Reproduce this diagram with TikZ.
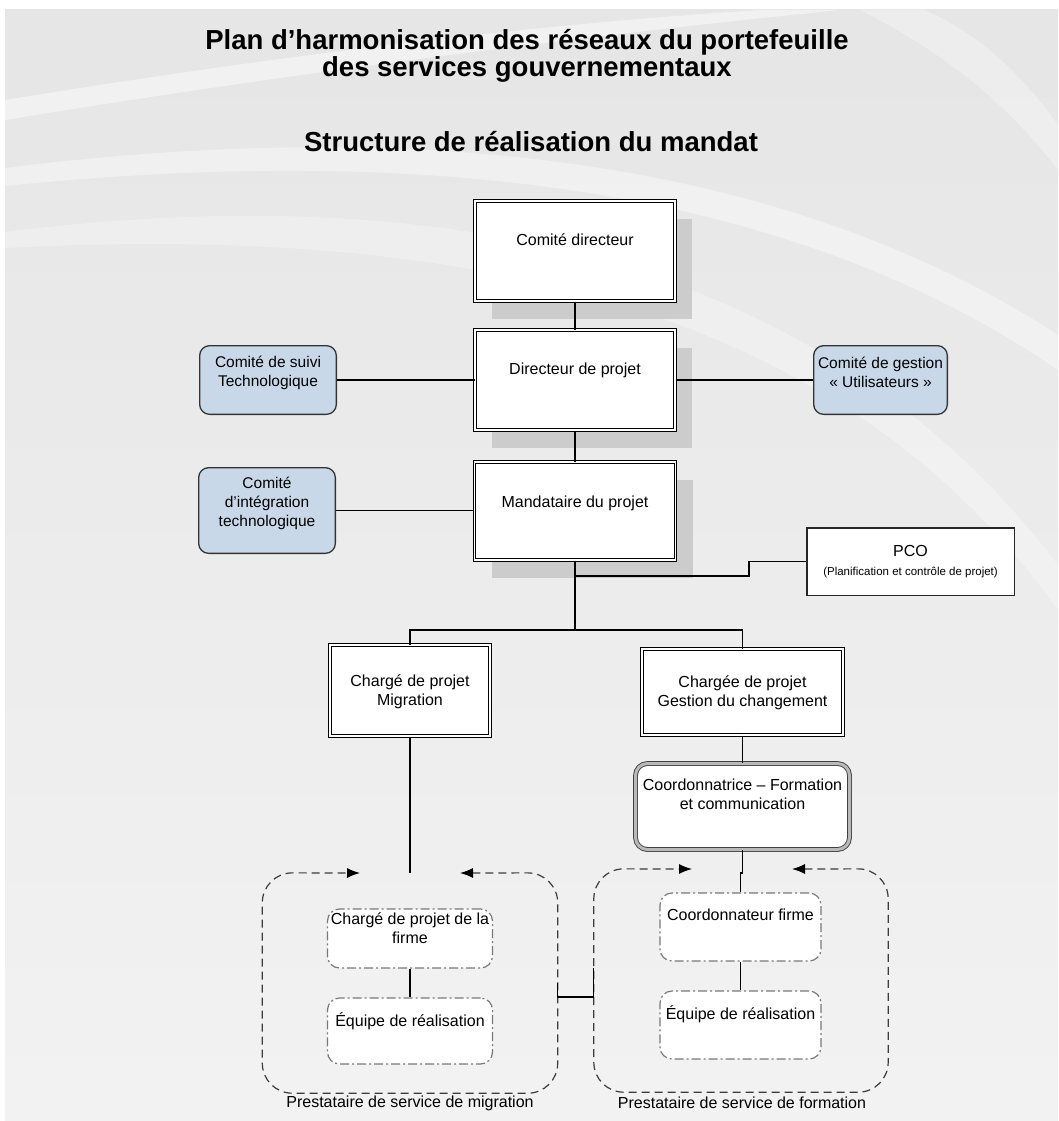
\documentclass[tikz,border=0pt]{standalone}
\usepackage{fontspec}
\setmainfont{Liberation Sans}
\usetikzlibrary{shadows,arrows.meta,calc}

\definecolor{bluefill}{RGB}{201,216,233}
\definecolor{shadowgray}{RGB}{204,204,204}
\definecolor{dashgray}{RGB}{60,60,60}
\definecolor{dotgray}{RGB}{120,120,120}

% text block raised inside its box without changing the box size
\newcommand{\lift}[2]{\raisebox{#1}[0pt][0pt]{\begin{tabular}{@{}c@{}}#2\end{tabular}}}

\begin{document}
\begin{tikzpicture}[x=1pt,y=-1pt,
  every node/.style={inner sep=0pt, font=\fontsize{16}{19}\selectfont},
  mainbox/.style={draw=black, line width=1pt, double=white, double distance=1.6pt,
    fill=white, rectangle},
  shadowed/.style={general shadow={fill=shadowgray, shadow xshift=17pt, shadow yshift=-18pt}},
  bluebox/.style={draw=black!80, line width=1.3pt, fill=bluefill, rounded corners=10pt,
    rectangle, font=\fontsize{15.5}{19}\selectfont},
  plainbox/.style={draw=black!85, line width=1.5pt, fill=white, rectangle},
  coordbox/.style={draw=black!75, line width=0.9pt, double=gray!55, double distance=3pt,
    fill=white, rounded corners=12pt, rectangle},
  firmbox/.style={draw=dotgray, line width=1.2pt,
    dash pattern=on 9pt off 3pt on 2pt off 3pt, fill=white, rounded corners=12pt, rectangle},
  provider/.style={rectangle},
  provtip/.style={Latex[length=13pt,width=10pt,color=black]},
  provpath/.style={draw=dashgray, line width=1.2pt, dash pattern=on 8pt off 5pt,
    rounded corners=30pt, {Latex[length=13pt,width=10pt,color=black]}-{Latex[length=13pt,width=10pt,color=black]}},
  link/.style={draw=black, line width=1.3pt},
  titlefont/.style={font=\fontsize{27.5}{25}\selectfont\bfseries, align=center}
]
\useasboundingbox (0,0) rectangle (1058,1121);

% ---------- background ----------
\fill[white] (0,0) rectangle (1058,1121);
\shade[top color=black!10, bottom color=black!5] (5,10) rectangle (1058,1121);
\fill[white, opacity=0.45] (5,100) .. controls (250,60) and (520,25) .. (760,10)
  -- (840,10) .. controls (560,38) and (260,78) .. (5,120) -- cycle;
\fill[white, opacity=0.4] (5,168) .. controls (350,125) and (750,135) .. (1058,335)
  -- (1058,370) .. controls (760,165) and (360,150) .. (5,186) -- cycle;
\fill[white, opacity=0.3] (5,232) .. controls (380,185) and (800,225) .. (1058,565)
  -- (1058,610) .. controls (820,275) and (400,228) .. (5,248) -- cycle;
\fill[white, opacity=0.3] (860,10) .. controls (960,60) and (1020,120) .. (1058,170)
  -- (1058,125) .. controls (1020,72) and (980,35) .. (925,10) -- cycle;

% ---------- titles ----------
\node[titlefont] (title) at (527,56)
  {Plan d’harmonisation des réseaux du portefeuille\\des services gouvernementaux};
\node[titlefont] (subtitle) at (531,142) {Structure de réalisation du mandat};

% ---------- main chain ----------
\node[mainbox, shadowed, minimum width=200pt, minimum height=100pt] (comite) at (575,251)
  {\lift{5pt}{Comité directeur}};
\node[mainbox, shadowed, minimum width=200pt, minimum height=100pt] (directeur) at (575,380)
  {\lift{5pt}{Directeur de projet}};
\node[mainbox, shadowed, minimum width=201pt, minimum height=98pt] (mandataire) at (575,511)
  {\lift{3pt}{Mandataire du projet}};

% ---------- side committees ----------
\node[bluebox, minimum width=136.7pt, minimum height=68.7pt] (suivi) at (268,380)
  {\lift{3.5pt}{Comité de suivi\\Technologique}};
\node[bluebox, minimum width=136.7pt, minimum height=85.7pt] (integ) at (267,510.5)
  {\lift{3pt}{Comité\\d’intégration\\technologique}};
\node[bluebox, minimum width=133.7pt, minimum height=68.7pt] (gestion) at (880.5,380)
  {\lift{2.5pt}{Comité de gestion\\« Utilisateurs »}};

% ---------- PCO ----------
\node[plainbox, minimum width=207.5pt, minimum height=67.5pt] (pco) at (910.5,561.5)
  {\lift{-5pt}{PCO\\{\fontsize{11.5}{13}\selectfont (Planification et contrôle de projet)}}};

% ---------- project leads ----------
\node[mainbox, minimum width=160pt, minimum height=91pt] (migr) at (410,690.5)
  {\lift{-6pt}{Chargé de projet\\Migration}};
\node[mainbox, minimum width=201pt, minimum height=86pt] (chg) at (742.5,692)
  {\lift{-6pt}{Chargée de projet\\Gestion du changement}};
\node[coordbox, minimum width=214pt, minimum height=86pt] (coord) at (742.5,806.5)
  {\lift{5.5pt}{Coordonnatrice – Formation\\et communication}};

% ---------- service providers ----------
\node[provider, minimum width=295pt, minimum height=220pt] (provmig) at (410,983) {};
\node[provider, minimum width=294pt, minimum height=223pt] (provform) at (741,980.5) {};

\draw[provpath] (460,873) -- (provmig.north east) -- (provmig.south east)
  -- (provmig.south west) -- (provmig.north west) -- (360,873);
\draw[provpath] (792,869) -- (provform.north east) -- (provform.south east)
  -- (provform.south west) -- (provform.north west) -- (692,869);

\node (provmiglabel) at (410,1103) {Prestataire de service de migration};
\node (provformlabel) at (742,1103) {Prestataire de service de formation};

\node[firmbox, minimum width=165pt, minimum height=59pt] (firmL) at (410,938.5)
  {\lift{4pt}{Chargé de projet de la\\firme}};
\node[firmbox, minimum width=165pt, minimum height=66pt] (equipeL) at (410,1031)
  {\lift{4pt}{Équipe de réalisation}};
\node[firmbox, minimum width=161pt, minimum height=68pt] (firmR) at (740.5,927)
  {\lift{6pt}{Coordonnateur firme}};
\node[firmbox, minimum width=161pt, minimum height=68pt] (equipeR) at (740.5,1025)
  {\lift{5pt}{Équipe de réalisation}};

% ---------- connectors ----------
\coordinate (split) at (575,630);
\coordinate (pcotap) at (575,576);

\draw[link] (comite) -- (directeur);
\draw[link] (directeur) -- (mandataire);
\draw[link] (suivi.east) -- (directeur.west);
\draw[link] (directeur.east) -- (gestion.west);
\draw[link] (integ.east) -- (mandataire.west |- integ.east);
\draw[link] (mandataire.south) -- (split);
\draw[link] (pcotap) -- ++(174,0) |- (pco.west);
\draw[link] (migr.north) |- (split) -| (chg.north);
\draw[link] (migr.south) -- (provmig.north);
\draw[link] (chg.south) -- (coord.north);
\draw[link] (coord.south) -- ++(0,23) -| (firmR.north);
\draw[link] (firmL.south) -- (equipeL.north);
\draw[link] (firmR.south) -- (equipeR.north);
\draw[link] (provmig.east) -- ++(0,14) -| ($(provform.west)+(0,-13)$);
\end{tikzpicture}
\end{document}
